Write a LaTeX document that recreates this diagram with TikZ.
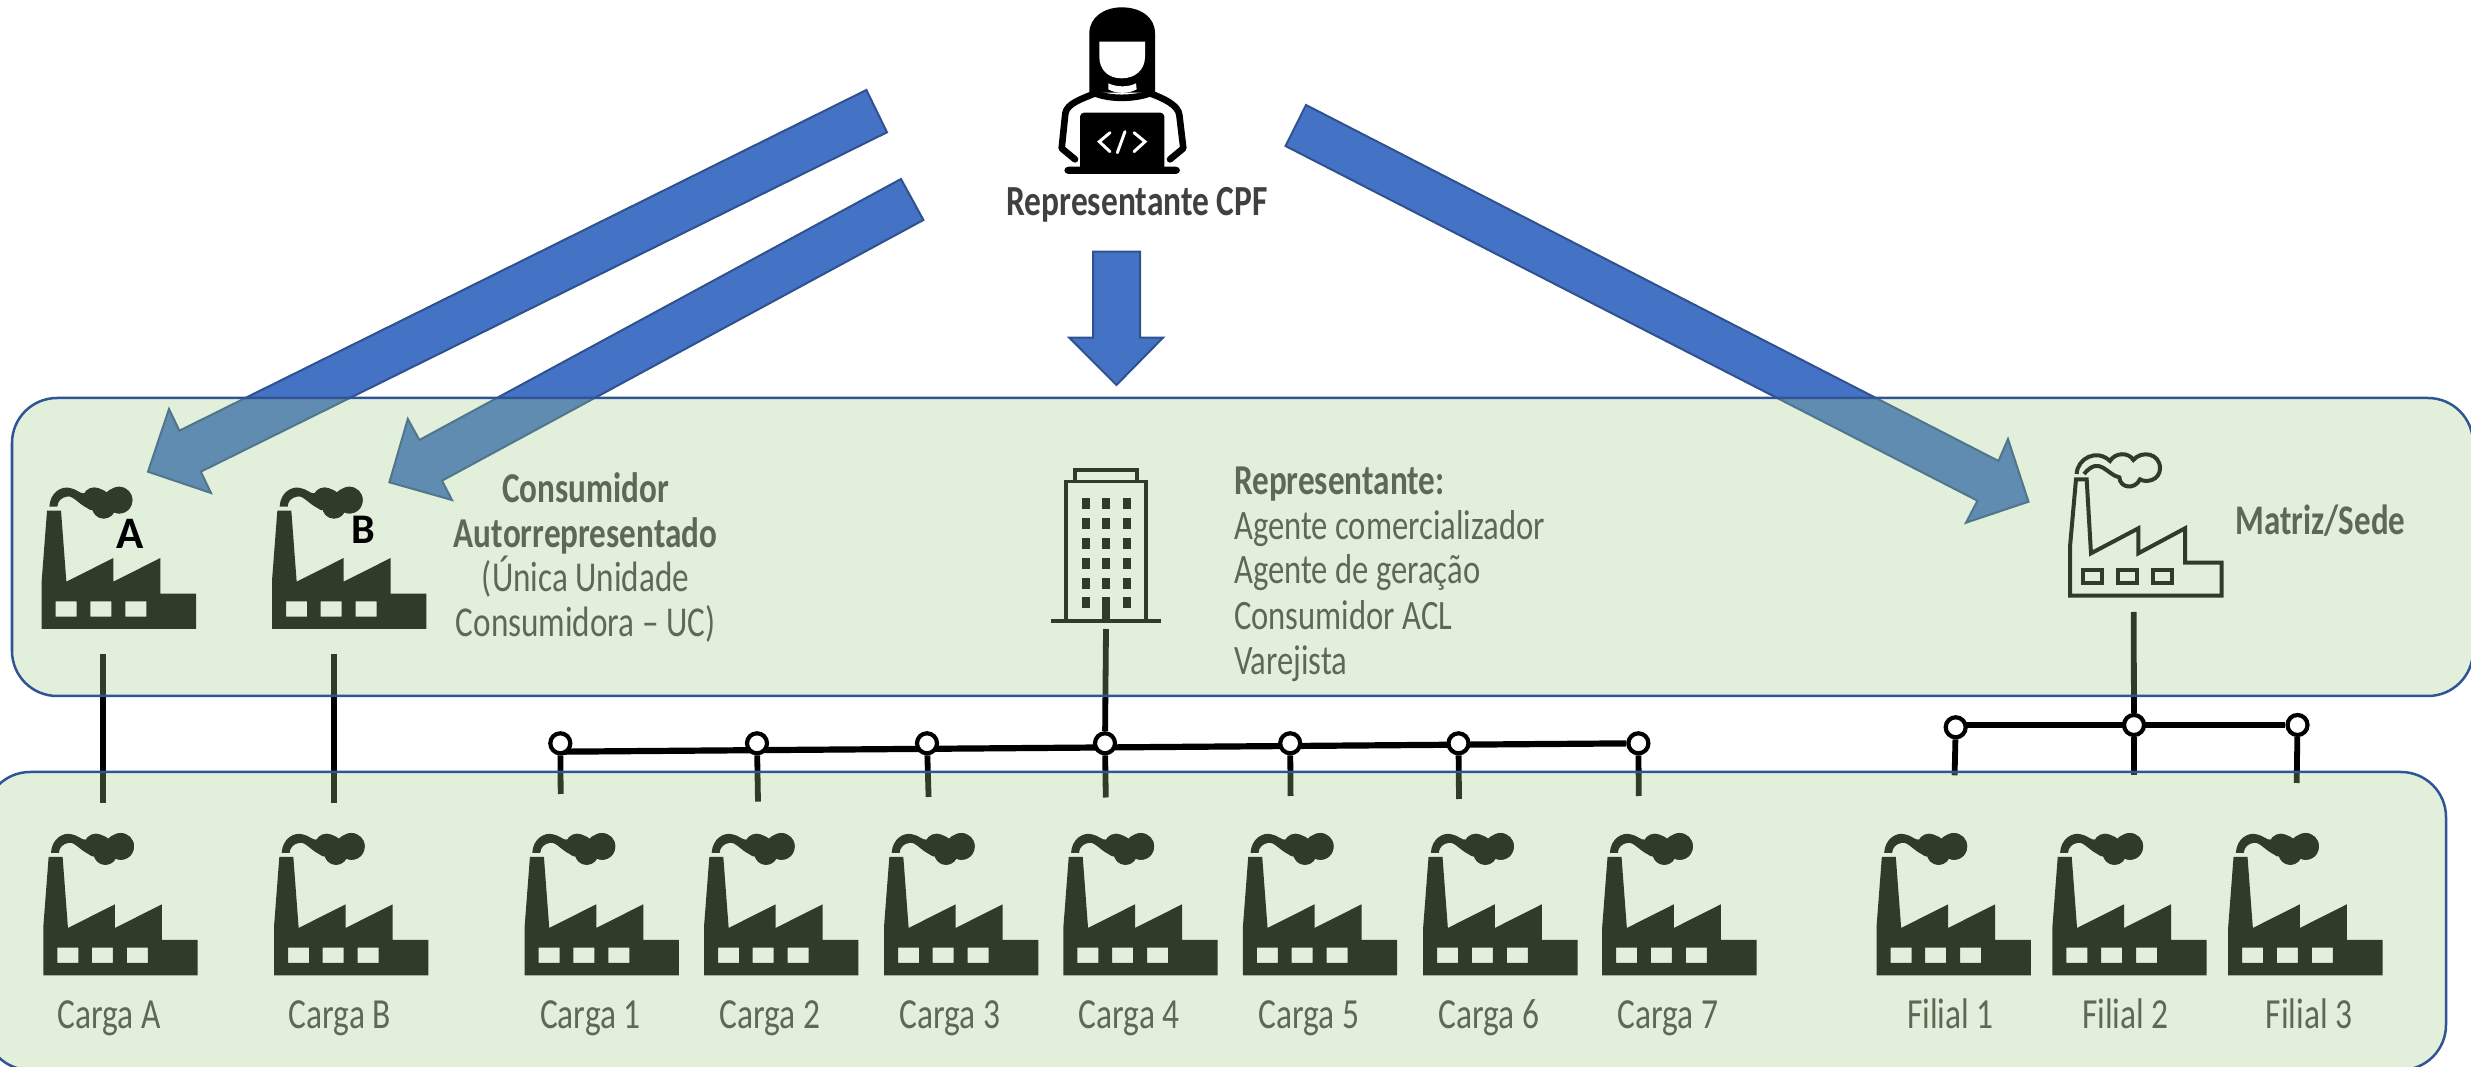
\documentclass[tikz,border=0pt]{standalone}
\usepackage{fontspec}
\setmainfont[FakeStretch=0.78]{Carlito}
\newfontfamily\plainfont{Carlito}
\usetikzlibrary{backgrounds}
\definecolor{panelgreen}{HTML}{9ECA84}
\definecolor{paneledge}{HTML}{2F5597}
\definecolor{arrowblue}{HTML}{4472C4}
\definecolor{arrowedge}{HTML}{2F528F}
\definecolor{labelgray}{HTML}{404040}
\tikzset{
  panel/.style={draw=paneledge, line width=.025cm, fill=panelgreen, fill opacity=.3, rounded corners=.45cm},
  bigarrow/.style={draw=arrowedge, line width=.02cm, fill=arrowblue},
  link/.style={line width=.058cm},
  bus/.style={line width=.062cm},
  bulb/.style={circle, draw, fill=white, line width=.042cm, minimum size=.2cm, inner sep=0},
  lbl/.style={text=labelgray, inner sep=0, anchor=base, font=\fontsize{12.2}{14}\selectfont},
  side/.style={text=labelgray, inner sep=0, anchor=base, font=\fontsize{12.1}{12.66}\selectfont},
  repr/.style={text=labelgray, inner sep=0, anchor=base west, font=\fontsize{11.9}{12.66}\selectfont},
  pics/factory/.style={code={
    \begin{scope}[scale=1/3, shift={(-130,-645)}]
    \fill[even odd rule] (130,645) -- (130,500) -- (146,290) -- (188,290) -- (204,503) -- (345,432) -- (345,503)
      -- (486,432) -- (486,539) -- (593,539) -- (593,645) -- cycle
      (172,562) rectangle (235,608) (276,562) rectangle (339,608) (381,562) rectangle (444,608);
    \fill (153,278) .. controls (155,235) and (190,215) .. (215,222) .. controls (235,225) and (245,240) .. (258,238)
      .. controls (270,218) and (305,218) .. (325,235) .. controls (340,215) and (400,210) .. (402,258)
      .. controls (402,295) and (365,305) .. (347,295) .. controls (335,320) and (290,320) .. (282,285)
      .. controls (250,285) and (225,240) .. (205,248) .. controls (190,250) and (177,262) .. (177,278) -- cycle;
    \fill (362,258) circle (40) (288,255) circle (35) (316,279) circle (35);
    \end{scope}
  }},
}
\begin{document}
\begin{tikzpicture}[x=.01cm, y=-.01cm]
\useasboundingbox (0,0) rectangle (2471,1067);

% user on top
\begin{scope}[shift={(980,0)}, scale=1/3]
\fill (328,278) -- (328,100) .. controls (328,50) and (375,22) .. (425,22) .. controls (480,22) and (525,50) .. (525,100) -- (525,278) -- cycle;
\draw[line width=.066cm, line cap=round, line join=round] (285,478) -- (245,445) -- (256,340) .. controls (260,310) and (310,295) .. (345,280)
  .. controls (390,298) and (460,298) .. (510,280) .. controls (550,295) and (595,315) .. (598,345) -- (610,445) -- (570,478);
\fill[white] (358,125) -- (495,125) -- (495,170) .. controls (495,210) and (465,235) .. (425,235) .. controls (385,235) and (358,210) .. (358,170) -- cycle;
\fill[white] (385,250) .. controls (410,262) and (445,262) .. (468,250) -- (470,268) .. controls (445,282) and (410,282) .. (385,268) -- cycle;
\fill[rounded corners=.04cm] (300,338) rectangle (553,510);
\fill[rounded corners=.04cm] (253,500) rectangle (600,522);
\draw[white, line width=.03cm, line cap=round] (390,398) -- (358,425) -- (390,455) (462,398) -- (495,425) -- (462,455) (435,395) -- (412,458);
\end{scope}
\node[lbl, font=\fontsize{12.2}{14}\bfseries] (cpf) at (1137,216) {Representante CPF};

% arrows
\begin{scope}[on background layer]
\draw[bigarrow] (866.4,90) -- (887,132.3) -- (200.8,471.7) -- (211,493) -- (148,471.7) -- (169,409) -- (179.4,430.7) -- cycle;
\draw[bigarrow] (901,179) -- (923.4,220) -- (442,480.7) -- (452,500) -- (389.4,482.3) -- (407.8,419) -- (419.4,440) -- cycle;
\draw[bigarrow] (1093,251.7) -- (1140,251.7) -- (1140,337.7) -- (1163,337.7) -- (1116.5,385) -- (1069.3,337.7) -- (1093,337.7) -- cycle;
\draw[bigarrow] (1306,105) -- (1998.5,461) -- (2008,439) -- (2028.5,501.7) -- (1966,522.7) -- (1977.5,500.7) -- (1285.5,146) -- cycle;
\end{scope}

% factories
\pic at (41.7,629) {factory};
\pic at (272,629) {factory};
\foreach \name/\x in {Carga A/43.3, Carga B/274, Carga 1/524.6, Carga 2/704, Carga 3/884, Carga 4/1063.4, Carga 5/1242.9, Carga 6/1423.2, Carga 7/1602.2}{
  \pic at (\x,975.3) {factory};
  \node[lbl] at (\x+65.8,1029) {\name};
}
\foreach \name/\x/\d in {Filial 1/1876.5/74, Filial 2/2052.4/73, Filial 3/2228.2/81}{
  \pic at (\x,975.3) {factory};
  \node[lbl] at (\x+\d,1029) {\name};
}

% head office outline
\begin{scope}[shift={(2000,400)}, scale=1/3, line width=.04cm]
\draw (210,587) -- (210,440) -- (228,238) -- (260,238) -- (273,460) -- (415,385) -- (415,460) -- (555,385) -- (555,488) -- (665,488) -- (665,587) -- cycle;
\draw (250,510) rectangle (307,550) (355,510) rectangle (412,550) (460,510) rectangle (517,550);
\draw (230,222) .. controls (232,175) and (290,145) .. (330,183) .. controls (345,158) and (385,155) .. (400,180)
  .. controls (425,150) and (480,160) .. (480,205) .. controls (480,240) and (440,250) .. (420,238)
  .. controls (405,270) and (360,265) .. (358,232) .. controls (320,225) and (300,165) .. (252,222);
\end{scope}

% office building
\begin{scope}[line width=.036cm]
\draw (1075,481.7) -- (1075,470) -- (1137,470) -- (1137,481.7);
\draw (1065.8,620) -- (1065.8,481.7) -- (1146.2,481.7) -- (1146.2,620);
\draw (1051,621) -- (1161,621);
\foreach \x in {1081.9,1102.2,1122.5}
  \foreach \y in {498.3,518.3,538.3,558.3,578.3,597.3}
    \fill (\x,\y) rectangle +(8,11);
\fill (1102.2,597) rectangle (1110,621);
\end{scope}

% texts in the panels
\node[side, font=\fontsize{12.1}{12.66}\bfseries] (cons) at (585.6,503) {Consumidor};
\node[side, font=\fontsize{12.1}{12.66}\bfseries] (auto) at (585.6,547.7) {Autorrepresentado};
\node[side] (unica) at (585.6,591.7) {(Única Unidade};
\node[side] (ucons) at (585.6,636.7) {Consumidora – UC)};
\node[repr, font=\fontsize{12.1}{12.66}\bfseries] (rtit) at (1233.4,495) {Representante:};
\node[repr] (r1) at (1233.4,539.3) {Agente comercializador};
\node[repr] (r2) at (1233.4,584) {Agente de geração};
\node[repr] (r3) at (1233.4,630) {Consumidor ACL};
\node[repr] (r4) at (1233.4,674.3) {Varejista};
\node[repr, font=\fontsize{12}{12.66}\bfseries] (sede) at (2235,535) {Matriz/Sede};

% bus nodes
\node[bulb] (c1) at (560.3,743.3) {};
\node[bulb] (c2) at (757,743.3) {};
\node[bulb] (c3) at (927,743.3) {};
\node[bulb] (c4) at (1105,743.3) {};
\node[bulb] (c5) at (1290.2,743.3) {};
\node[bulb] (c6) at (1458.5,743.3) {};
\node[bulb] (c7) at (1638.4,743.3) {};
\node[bulb] (f1) at (1955.7,727.3) {};
\node[bulb] (f2) at (2134,725) {};
\node[bulb] (f3) at (2297.5,725) {};
\coordinate (busL) at (560.3,751.7);
\coordinate (filL) at (1955.7,725);
\coordinate (upA) at (103.3,654);
\coordinate (dnA) at (103.3,802.7);
\coordinate (upB) at (334,654);
\coordinate (dnB) at (334,802.7);
\coordinate (upP) at (1106,629);
\coordinate (upM) at (2133.7,612);

% connectors
\begin{scope}[on background layer]
\draw[link] (upA) -- (dnA);
\draw[link] (upB) -- (dnB);
\draw[link] (upP) -- (c4);
\draw[link] (upM) -- (f2);
\draw[bus] (busL) -- (c7);
\draw[bus] (filL) -- (f3);
\foreach \n/\x/\y in {c1/560.7/794, c2/758/801.7, c3/928.6/797, c4/1105.8/797.5, c5/1290.6/796, c6/1459/799, c7/1638.8/796, f1/1954.6/775.3, f2/2134/775.3, f3/2296.7/783}{
  \coordinate (\n end) at (\x,\y);
  \draw[link] (\n) -- (\n end);
}
\end{scope}

% panels
\draw[panel] (12,398) rectangle (2473,696);
\draw[panel] (-15,772) rectangle (2446,1070);

\node[inner sep=0, anchor=base, font=\plainfont\fontsize{12.8}{14}\bfseries] (lblA) at (130,548.3) {A};
\node[inner sep=0, anchor=base, font=\plainfont\fontsize{12}{14}\bfseries] (lblB) at (363.5,543.3) {B};
\end{tikzpicture}
\end{document}
